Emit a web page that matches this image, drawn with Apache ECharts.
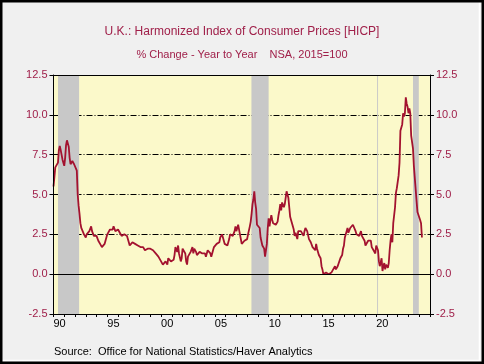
<!DOCTYPE html>
<html><head><meta charset="utf-8">
<script src="https://cdn.jsdelivr.net/npm/echarts@6/dist/echarts.min.js"></script>
<style>html,body{margin:0;padding:0;background:#F0F0F0}#c{width:484px;height:364px}</style>
</head><body><div id="c"></div>
<script>
// Monthly % change year to year, starting Jan 1990
const startYear = 1990;
const cpi1990s = [
  5.5, 6.1, 6.7, 6.8, 6.8, 7.0, 7.8, 8.05, 7.8, 7.5, 7.2, 7.0,
  6.8, 7.3, 8.1, 8.4, 8.3, 8.0, 7.3, 6.9, 7.0, 7.1, 7.0, 6.9,
  7.0, 6.9, 6.5, 5.0, 4.3, 3.8, 3.2, 2.9, 2.9, 2.8, 2.5, 2.4,
  2.3, 2.5, 2.4, 2.5, 2.7, 2.8, 3.0, 2.7, 2.6, 2.4, 2.5, 2.4,
  2.4, 2.3, 2.1, 2.0, 1.9, 1.8, 1.7, 1.6, 1.7, 1.9, 2.1, 2.3,
  2.5, 2.6, 2.6, 2.8, 2.7, 2.9, 2.8, 3.0, 2.9, 2.7, 2.8, 2.8,
  2.8, 2.7, 2.6, 2.5, 2.4, 2.3, 2.4, 2.5, 2.6, 2.5, 2.4, 2.3,
  2.0, 1.8, 1.8, 1.9, 2.0, 2.1, 2.0, 1.9, 1.8, 2.0, 1.8, 1.8,
  1.8, 1.7, 1.7, 1.8, 1.7, 1.6, 1.5, 1.4, 1.6, 1.6, 1.5, 1.6,
  1.6, 1.5, 1.7, 1.5, 1.4, 1.4, 1.3, 1.2, 1.2, 1.1, 1.2, 1.0
];
const cpi2000s = [
  0.8, 0.9, 0.6, 0.6, 0.5, 0.8, 0.9, 0.6, 1.0, 1.0, 1.1, 0.8,
  0.9, 0.8, 0.9, 1.2, 1.7, 1.7, 1.4, 1.8, 1.3, 1.2, 0.8, 1.0,
  1.6, 1.5, 1.5, 1.3, 0.8, 0.6, 1.1, 1.0, 1.0, 1.4, 1.5, 1.7,
  1.3, 1.6, 1.5, 1.4, 1.2, 1.1, 1.3, 1.4, 1.4, 1.4, 1.3, 1.3,
  1.4, 1.3, 1.1, 1.2, 1.5, 1.6, 1.4, 1.3, 1.1, 1.2, 1.5, 1.7,
  1.6, 1.7, 1.9, 1.9, 1.9, 2.0, 2.3, 2.4, 2.5, 2.3, 2.1, 1.9,
  1.9, 2.0, 1.8, 2.0, 2.2, 2.5, 2.4, 2.5, 2.4, 2.4, 2.7, 3.0,
  2.7, 2.8, 3.1, 2.8, 2.5, 2.4, 1.9, 1.8, 1.8, 2.1, 2.1, 2.1,
  2.2, 2.5, 2.5, 3.0, 3.3, 3.8, 4.4, 4.7, 5.2, 4.5, 4.1, 3.1,
  3.0, 3.2, 2.9, 2.3, 2.2, 1.8, 1.8, 1.6, 1.1, 1.5, 1.9, 2.9
];
const cpi2010s = [
  3.5, 3.0, 3.4, 3.7, 3.4, 3.2, 3.1, 3.1, 3.1, 3.2, 3.3, 3.7,
  4.0, 4.4, 4.0, 4.5, 4.5, 4.2, 4.4, 4.5, 5.2, 5.0, 4.8, 4.2,
  3.6, 3.4, 3.5, 3.0, 2.8, 2.4, 2.6, 2.5, 2.2, 2.7, 2.7, 2.7,
  2.7, 2.8, 2.8, 2.4, 2.7, 2.9, 2.8, 2.7, 2.7, 2.2, 2.1, 2.0,
  1.9, 1.7, 1.6, 1.8, 1.5, 1.9, 1.6, 1.5, 1.2, 1.3, 1.0, 0.5,
  0.3, 0.0, 0.0, -0.1, 0.1, 0.0, 0.1, 0.0, -0.1, -0.1, 0.1, 0.2,
  0.3, 0.3, 0.5, 0.3, 0.3, 0.5, 0.6, 0.6, 1.0, 0.9, 1.2, 1.6,
  1.8, 2.3, 2.3, 2.7, 2.9, 2.6, 2.6, 2.9, 3.0, 3.0, 3.1, 3.0,
  3.0, 2.7, 2.5, 2.4, 2.4, 2.4, 2.5, 2.7, 2.4, 2.4, 2.3, 2.1,
  1.8, 1.9, 1.9, 2.1, 2.0, 2.0, 2.1, 1.7, 1.7, 1.5, 1.5, 1.3
];
const cpi2020s = [
  1.8, 1.7, 1.5, 0.8, 0.5, 0.6, 1.0, 0.2, 0.5, 0.7, 0.3, 0.6,
  0.7, 0.4, 0.7, 1.5, 2.1, 2.5, 2.0, 3.2, 3.1, 4.2, 5.1, 5.4,
  5.5, 6.2, 7.0, 9.0, 9.1, 9.4, 10.1, 9.9, 10.1, 11.1, 10.7, 10.5,
  10.1, 10.4, 10.1, 8.7, 8.7, 7.9, 6.8, 6.7, 6.7, 4.6, 3.9, 4.0,
  4.0, 3.4, 3.2, 2.3
];
// Recession shading (start, end) in decimal years
const recessions = [[1990.42, 1992.38], [2008.40, 2010.0], [2020.08, 2020.17], [2023.42, 2023.96]];
const yTicks = [-2.5, 0.0, 2.5, 5.0, 7.5, 10.0, 12.5];
const xLabelYears = [1990, 1995, 2000, 2005, 2010, 2015, 2020];

const titleText = 'U.K.: Harmonized Index of Consumer Prices [HICP]';
const subtitleText = '% Change - Year to Year    NSA, 2015=100';
const sourceText = 'Source:  Office for National Statistics/Haver Analytics';

const allValues = cpi1990s.concat(cpi2000s, cpi2010s, cpi2020s);
const seriesData = allValues.map((v, i) => [startYear + i / 12, v]);

const FONT = 'Liberation Sans, Arial, sans-serif';
const RED = '#A0204A';

const chart = echarts.init(document.getElementById('c'), null, {renderer: 'canvas'});
const yCommon = {
  type: 'value', min: yTicks[0], max: yTicks[yTicks.length - 1], interval: 2.5,
  axisLine: {show: true, onZero: false, lineStyle: {color: '#000', width: 1}},
  axisTick: {show: true, length: 4, lineStyle: {color: '#000'}},
  axisLabel: {formatter: v => v.toFixed(1), color: RED, fontSize: 11, fontFamily: FONT, margin: 6},
  splitLine: {show: false},
  z: 5
};
chart.setOption({
  animation: false,
  backgroundColor: '#F0F0F0',
  title: [
    {text: titleText, left: 'center', top: 26, padding: 0, textStyle: {color: RED, fontSize: 12, fontWeight: 'normal', fontFamily: FONT}},
    {text: subtitleText, left: 'center', top: 49, padding: 0, textStyle: {color: RED, fontSize: 11, fontWeight: 'normal', fontFamily: FONT}},
    {text: sourceText, left: 54, top: 346, padding: 0, textStyle: {color: '#000', fontSize: 11, fontWeight: 'normal', fontFamily: FONT}}
  ],
  grid: {left: 53.5, right: 54, top: 75, bottom: 50, show: true, backgroundColor: '#FBF9CA', borderWidth: 0},
  xAxis: {
    type: 'value', min: 1990, max: 2025, interval: 1,
    axisLine: {show: true, onZero: false, lineStyle: {color: '#000', width: 1}},
    axisTick: {show: true, length: 3, lineStyle: {color: '#000'}},
    axisLabel: {
      formatter: v => xLabelYears.indexOf(Math.round(v)) >= 0 ? String(Math.round(v)).slice(2) : '',
      align: 'left', color: '#000', fontSize: 11, fontFamily: FONT, margin: 4
    },
    splitLine: {show: false},
    z: 5
  },
  yAxis: [
    Object.assign({}, yCommon, {position: 'left'}),
    Object.assign({}, yCommon, {position: 'right'}),
    {
      type: 'value', min: yTicks[0], max: yTicks[yTicks.length - 1], interval: 2.5, position: 'left',
      axisLine: {show: false}, axisTick: {show: false}, axisLabel: {show: false},
      splitLine: {show: true, lineStyle: {color: '#000', width: 1, type: [6, 2, 1, 2]}},
      z: 1
    }
  ],
  series: [
    {
      type: 'line', data: [], z: 2, yAxisIndex: 0,
      markArea: {
        silent: true,
        itemStyle: {color: '#C8C8C8', opacity: 1},
        data: recessions.map(r => [{xAxis: r[0]}, {xAxis: r[1]}])
      }
    },
    {
      type: 'line', data: [], z: 3, yAxisIndex: 0,
      markLine: {
        silent: true, symbol: 'none', label: {show: false},
        lineStyle: {color: '#000', width: 1, type: 'solid'},
        data: [{yAxis: 0}, {yAxis: 12.5}]
      }
    },
    {
      type: 'line', data: seriesData, yAxisIndex: 0, z: 4,
      showSymbol: false, symbol: 'none',
      lineStyle: {color: '#A3122F', width: 1.8},
      emphasis: {disabled: true}
    }
  ],
  graphic: [
    {type: 'polyline', shape: {points: [[479.5, 2], [479.5, 360.5], [2, 360.5]]}, style: {stroke: '#FFFFFF', lineWidth: 1.5, fill: null}, z: 100},
    {type: 'rect', shape: {x: 1.25, y: 1.25, width: 481.5, height: 361.5}, style: {fill: null, stroke: '#000', lineWidth: 2.5}, z: 101}
  ]
});
</script>
</body></html>
